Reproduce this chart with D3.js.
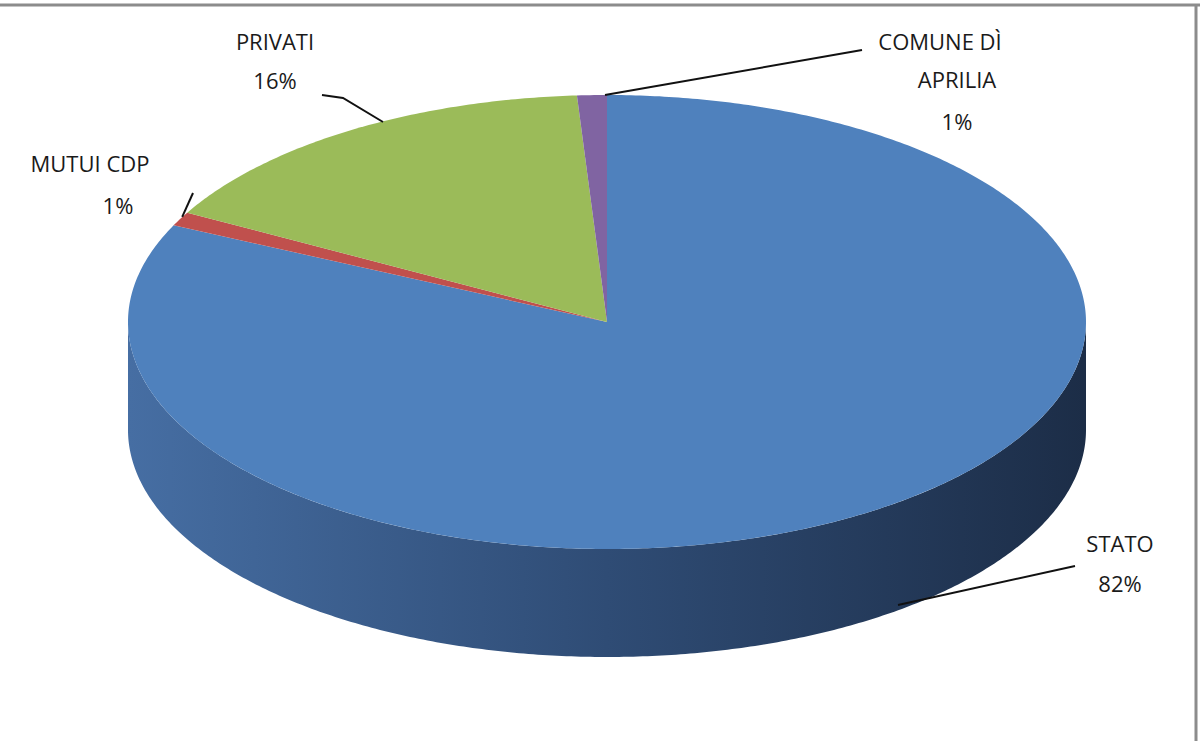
<!DOCTYPE html>
<html><head><meta charset="utf-8">
<script src="https://cdn.jsdelivr.net/npm/d3@7"></script>
<style>body{margin:0;background:#fff}svg{display:block}</style>
</head><body>
<svg id="c" width="1200" height="741"></svg>
<script>
// data
var categorie = ["STATO", "MUTUI CDP", "PRIVATI", "COMUNE DÌ APRILIA"];
var valori = [82, 1, 16, 1];
var etichette = [["STATO", "82%"], ["MUTUI CDP", "1%"], ["PRIVATI", "16%"], ["COMUNE DÌ", "APRILIA", "1%"]];
var colori = ["#4f81bd", "#c0504d", "#9bbb59", "#8064a2"];

var svg = d3.select("#c");
var cx = 607, cy = 322, rx = 479, ry = 227, depth = 108;

function pt(a, dy) { return [cx + rx * Math.sin(a), cy - ry * Math.cos(a) + (dy || 0)]; }
function arcPts(a0, a1, dy) {
  var n = Math.max(2, Math.ceil((a1 - a0) / 0.01)), p = [];
  for (var i = 0; i <= n; i++) p.push(pt(a0 + (a1 - a0) * i / n, dy));
  return p;
}
var line = d3.line();

var pie = d3.pie().sort(null).value(function (d) { return d; });
var archi = pie(valori);

var defs = svg.append("defs");
var grad = defs.append("linearGradient").attr("id", "lato").attr("x1", "0").attr("x2", "1");
grad.append("stop").attr("offset", "0").attr("stop-color", "#466ea3");
grad.append("stop").attr("offset", "0.5").attr("stop-color", "#2f4c75");
grad.append("stop").attr("offset", "1").attr("stop-color", "#1c2d47");

// side walls (front half only)
archi.forEach(function (d, i) {
  var a0 = Math.max(d.startAngle, Math.PI / 2), a1 = Math.min(d.endAngle, 3 * Math.PI / 2);
  if (a1 <= a0) return;
  var top = arcPts(a0, a1, 0), bot = arcPts(a0, a1, depth).reverse();
  svg.append("path").attr("d", line(top.concat(bot)) + "Z")
    .attr("fill", i === 0 ? "url(#lato)" : d3.color(colori[i]).darker(1));
});

// top faces
archi.forEach(function (d, i) {
  var p = [[cx, cy]].concat(arcPts(d.startAngle, d.endAngle, 0));
  svg.append("path").attr("d", line(p) + "Z").attr("fill", colori[i]);
});

// leaders: end on the slice edge
function bordo(i) { var d = archi[i]; return pt((d.startAngle + d.endAngle) / 2, 0); }
var leader = [
  [[1075, 566], [898, 605]],
  [[193, 193], [bordo(1)[0] + 2, bordo(1)[1] - 2]],
  [[322, 95], [343, 98], [383, 122]],
  [[862, 50], [605, 95]]
];
leader.forEach(function (l) {
  svg.append("path").attr("d", line(l)).attr("fill", "none").attr("stroke", "#111").attr("stroke-width", 2);
});

var posEtichette = [[1120, 552], [90, 172], [275, 50], [940, 50]];
var righe = [[0, 40], [0, 42], [0, 39], [0, 38, 80]];
etichette.forEach(function (e, i) {
  var t = svg.append("text").attr("text-anchor", "middle")
    .attr("font-family", "Open Sans, sans-serif").attr("font-size", 22).attr("fill", "#1a1a1a");
  e.forEach(function (s, j) {
    var dx = (i === 3 && j > 0) ? 17 : (i === 1 && j === 1 ? 28 : 0);
    t.append("tspan").attr("x", posEtichette[i][0] + dx).attr("y", posEtichette[i][1] + righe[i][j]).text(s);
  });
});

// frame
svg.append("line").attr("x1", 0).attr("x2", 1200).attr("y1", 5).attr("y2", 5).attr("stroke", "#8c8c8c").attr("stroke-width", 3);
svg.append("line").attr("x1", 1196).attr("x2", 1196).attr("y1", 5).attr("y2", 741).attr("stroke", "#8c8c8c").attr("stroke-width", 3);
</script>
</body></html>
